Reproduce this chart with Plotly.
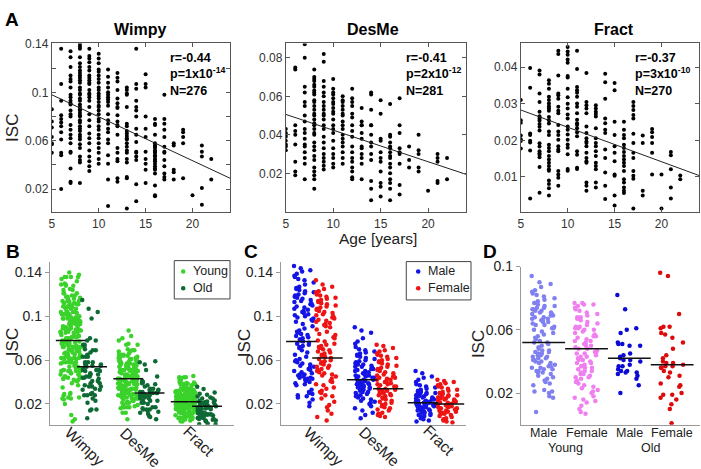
import plotly.graph_objects as go

W, H = 701, 469

# ---------------- Panel A data (ISC per subject, grouped by age) ----------------
ages = list(range(5, 23))
wimpy_isc = [
    [0.086, 0.076, 0.071, 0.063, 0.058, 0.057, 0.050],
    [0.136, 0.107, 0.093, 0.081, 0.078, 0.075, 0.072, 0.067, 0.061, 0.050, 0.048, 0.020],
    [0.134, 0.129, 0.121, 0.114, 0.111, 0.109, 0.104, 0.098, 0.096, 0.093, 0.091, 0.090, 0.085,
     0.082, 0.080, 0.073, 0.069, 0.065, 0.062, 0.058, 0.051, 0.050, 0.037, 0.026, 0.025],
    [0.140, 0.138, 0.136, 0.129, 0.124, 0.121, 0.118, 0.116, 0.114, 0.112, 0.110, 0.108, 0.104,
     0.102, 0.099, 0.098, 0.095, 0.093, 0.090, 0.088, 0.086, 0.085, 0.083, 0.081, 0.080, 0.077,
     0.075, 0.072, 0.070, 0.068, 0.065, 0.063, 0.061, 0.057, 0.054, 0.047, 0.044, 0.042, 0.025],
    [0.136, 0.130, 0.128, 0.125, 0.121, 0.118, 0.114, 0.112, 0.110, 0.108, 0.107, 0.102, 0.099,
     0.098, 0.096, 0.093, 0.088, 0.082, 0.077, 0.072, 0.066, 0.062, 0.058, 0.052, 0.047, 0.043,
     0.039, 0.035],
    [0.132, 0.128, 0.124, 0.119, 0.117, 0.114, 0.111, 0.108, 0.104, 0.102, 0.099, 0.097, 0.095,
     0.092, 0.089, 0.088, 0.085, 0.082, 0.078, 0.076, 0.072, 0.069, 0.065, 0.062, 0.058, 0.054,
     0.050, 0.045, 0.041],
    [0.119, 0.113, 0.108, 0.104, 0.100, 0.098, 0.096, 0.094, 0.092, 0.089, 0.082, 0.077, 0.074,
     0.070, 0.067, 0.061, 0.058, 0.048, 0.041, 0.028, 0.006],
    [0.116, 0.112, 0.109, 0.102, 0.095, 0.091, 0.088, 0.087, 0.081, 0.076, 0.073, 0.072, 0.065,
     0.054, 0.050, 0.045, 0.043, 0.029, 0.026],
    [0.104, 0.102, 0.099, 0.098, 0.088, 0.074, 0.072, 0.068, 0.066, 0.064, 0.062, 0.061, 0.058,
     0.055, 0.052, 0.050, 0.045, 0.042, 0.030, 0.029, 0.004],
    [0.136, 0.107, 0.103, 0.093, 0.088, 0.085, 0.080, 0.070, 0.065, 0.059, 0.051, 0.050, 0.047,
     0.044, 0.024, 0.010],
    [0.115, 0.107, 0.104, 0.080, 0.070, 0.063, 0.051, 0.045, 0.041, 0.036, 0.025],
    [0.078, 0.074, 0.073, 0.065, 0.058, 0.056, 0.055, 0.054, 0.052, 0.051, 0.050, 0.048, 0.047,
     0.045, 0.044, 0.043, 0.041, 0.039, 0.037, 0.036, 0.033, 0.023, 0.015, 0.014],
    [0.098, 0.078, 0.074, 0.069, 0.063, 0.055, 0.051, 0.050, 0.044, 0.039, 0.033, 0.030, 0.028],
    [0.058, 0.056, 0.036, 0.034, 0.028],
    [0.069, 0.067, 0.063, 0.058, 0.029],
    [0.015],
    [0.056, 0.051, 0.047, 0.021, 0.007],
    [0.045, 0.028],
]
desme_isc = [
    [0.043, 0.041, 0.040, 0.039, 0.037, 0.035, 0.034, 0.032],
    [0.075, 0.074, 0.045, 0.042, 0.040, 0.035, 0.026, 0.021, 0.019],
    [0.087, 0.080, 0.065, 0.062, 0.057, 0.055, 0.050, 0.047, 0.043, 0.041, 0.038, 0.035, 0.034,
     0.031, 0.028, 0.025, 0.017],
    [0.074, 0.070, 0.069, 0.068, 0.066, 0.065, 0.063, 0.062, 0.061, 0.058, 0.057, 0.055, 0.053,
     0.051, 0.050, 0.048, 0.046, 0.045, 0.043, 0.041, 0.040, 0.036, 0.034, 0.032, 0.029, 0.027,
     0.023, 0.021, 0.019, 0.017, 0.012],
    [0.082, 0.078, 0.068, 0.065, 0.062, 0.060, 0.057, 0.055, 0.053, 0.051, 0.050, 0.048, 0.045,
     0.043, 0.039, 0.036, 0.033, 0.030, 0.028, 0.026, 0.024, 0.022],
    [0.069, 0.064, 0.062, 0.061, 0.059, 0.057, 0.056, 0.054, 0.052, 0.051, 0.048, 0.045, 0.043,
     0.041, 0.037, 0.033, 0.030, 0.028, 0.025, 0.023],
    [0.060, 0.058, 0.057, 0.055, 0.053, 0.051, 0.050, 0.047, 0.045, 0.043, 0.040, 0.038, 0.036,
     0.034, 0.031, 0.028, 0.025],
    [0.064, 0.059, 0.057, 0.055, 0.051, 0.049, 0.045, 0.042, 0.039, 0.034, 0.031, 0.028, 0.026,
     0.023, 0.021, 0.018, 0.017],
    [0.054, 0.047, 0.045, 0.045, 0.041, 0.038, 0.034, 0.033, 0.030, 0.028, 0.025, 0.017],
    [0.062, 0.061, 0.053, 0.045, 0.045, 0.040, 0.036, 0.034, 0.030, 0.027, 0.016, 0.012, 0.006],
    [0.058, 0.051, 0.038, 0.037, 0.031, 0.028, 0.026, 0.021, 0.015, 0.013, 0.008],
    [0.056, 0.040, 0.039, 0.036, 0.034, 0.033, 0.031, 0.029, 0.028, 0.025, 0.023, 0.020, 0.017,
     0.015, 0.012, 0.006],
    [0.059, 0.045, 0.041, 0.033, 0.031, 0.030, 0.025, 0.014, 0.009],
    [0.034, 0.027, 0.023],
    [0.040, 0.032, 0.030, 0.023, 0.021],
    [0.011],
    [0.030, 0.028, 0.026, 0.016, 0.015],
    [0.028, 0.017],
]
fract_isc = [
    [0.0310, 0.0255, 0.0248, 0.0213, 0.0203, 0.0198, 0.0178],
    [0.0398, 0.0344, 0.0219, 0.0215, 0.0199, 0.0194, 0.0172, 0.0041],
    [0.0391, 0.0380, 0.0328, 0.0305, 0.0278, 0.0266, 0.0260, 0.0254, 0.0245, 0.0237, 0.0227,
     0.0192, 0.0183, 0.0170, 0.0165, 0.0161, 0.0154, 0.0127, 0.0057],
    [0.0364, 0.0355, 0.0341, 0.0319, 0.0310, 0.0301, 0.0293, 0.0287, 0.0281, 0.0264, 0.0255,
     0.0246, 0.0224, 0.0215, 0.0188, 0.0179, 0.0170, 0.0157, 0.0148, 0.0139, 0.0130, 0.0121,
     0.0117, 0.0090, 0.0081, 0.0069, 0.0049],
    [0.0445, 0.0436, 0.0377, 0.0328, 0.0323, 0.0314, 0.0292, 0.0281, 0.0274, 0.0242, 0.0224,
     0.0215, 0.0202, 0.0184, 0.0175, 0.0170, 0.0116, 0.0107, 0.0098, 0.0076],
    [0.0455, 0.0443, 0.0434, 0.0421, 0.0412, 0.0376, 0.0372, 0.0341, 0.0318, 0.0300, 0.0287,
     0.0271, 0.0260, 0.0238, 0.0229, 0.0216, 0.0202, 0.0189, 0.0180, 0.0162, 0.0122, 0.0117],
    [0.0445, 0.0395, 0.0346, 0.0337, 0.0330, 0.0319, 0.0301, 0.0292, 0.0274, 0.0256, 0.0247,
     0.0242, 0.0233, 0.0222, 0.0211, 0.0170, 0.0161, 0.0125, 0.0122],
    [0.0384, 0.0305, 0.0296, 0.0287, 0.0274, 0.0238, 0.0220, 0.0206, 0.0197, 0.0193, 0.0184,
     0.0166, 0.0152, 0.0143, 0.0139, 0.0085, 0.0076, 0.0062],
    [0.0296, 0.0287, 0.0278, 0.0272, 0.0265, 0.0233, 0.0206, 0.0193, 0.0184, 0.0170, 0.0157,
     0.0139, 0.0130, 0.0121, 0.0085, 0.0071],
    [0.0382, 0.0359, 0.0314, 0.0260, 0.0247, 0.0229, 0.0220, 0.0175, 0.0152, 0.0112, 0.0076, 0.0040],
    [0.0357, 0.0337, 0.0251, 0.0215, 0.0184, 0.0166, 0.0143, 0.0107, 0.0103, 0.0049, 0.0022],
    [0.0251, 0.0229, 0.0215, 0.0206, 0.0188, 0.0179, 0.0168, 0.0157, 0.0148, 0.0139, 0.0130,
     0.0116, 0.0094, 0.0085, 0.0071, 0.0062, 0.0056],
    [0.0305, 0.0294, 0.0283, 0.0269, 0.0260, 0.0218, 0.0193, 0.0166, 0.0152, 0.0116, 0.0103,
     0.0095, 0.0014],
    [0.0213, 0.0193, 0.0062, 0.0049],
    [0.0231, 0.0222, 0.0209, 0.0193, 0.0166, 0.0107],
    [0.0107, 0.0014],
    [0.0168, 0.0159, 0.0121, 0.0071, 0.0041],
    [0.0104, 0.0094],
]
fit_ages = [5, 24]
wimpy_fit = [0.098, 0.029]
desme_fit = [0.0506, 0.0195]
fract_fit = [0.0283, 0.0104]
stat_r = ["-0.44", "-0.41", "-0.37"]
stat_p_mant = ["1", "2", "3"]
stat_p_exp = ["-14", "-12", "-10"]
stat_n = [276, 281, 270]
measure_names = ["Wimpy", "DesMe", "Fract"]

# ---------------- Panel B (young / old split of panel A subjects) ----------------
old_age_min = 15
b_young_means = [0.078, 0.043, 0.022]
b_old_means = [0.054, 0.030, 0.018]

# ---------------- Panel C (male / female) ----------------
c_male_wimpy = [0.146, 0.144, 0.142, 0.141, 0.139, 0.137, 0.136, 0.134, 0.133, 0.131, 0.129, 0.127,
                0.126, 0.125, 0.124, 0.123, 0.122, 0.121, 0.120, 0.119, 0.118, 0.117, 0.116, 0.115,
                0.114, 0.113, 0.112, 0.111, 0.110, 0.109, 0.108, 0.107, 0.106, 0.105, 0.104, 0.103,
                0.102, 0.101, 0.100, 0.099, 0.098, 0.097, 0.096, 0.095, 0.093, 0.091, 0.089, 0.087,
                0.086, 0.085, 0.084, 0.083, 0.082, 0.081, 0.080, 0.079, 0.078, 0.077, 0.076, 0.075,
                0.074, 0.073, 0.072, 0.071, 0.069, 0.067, 0.065, 0.063, 0.061, 0.060, 0.059, 0.058,
                0.057, 0.056, 0.055, 0.054, 0.053, 0.052, 0.051, 0.050, 0.049, 0.048, 0.047, 0.047,
                0.046, 0.045, 0.045, 0.044, 0.044, 0.043, 0.043, 0.042, 0.041, 0.040, 0.039, 0.038,
                0.037, 0.033, 0.031, 0.030, 0.029, 0.028, 0.027, 0.026, 0.024, 0.021, 0.018]
c_female_wimpy = [0.133, 0.129, 0.127, 0.125, 0.123, 0.122, 0.120, 0.119, 0.118, 0.117, 0.116,
                  0.115, 0.114, 0.113, 0.112, 0.111, 0.110, 0.109, 0.108, 0.107, 0.106, 0.105,
                  0.104, 0.103, 0.102, 0.101, 0.100, 0.099, 0.098, 0.097, 0.096, 0.095, 0.094,
                  0.093, 0.092, 0.091, 0.090, 0.088, 0.086, 0.084, 0.083, 0.081, 0.080, 0.078,
                  0.077, 0.075, 0.074, 0.073, 0.072, 0.071, 0.070, 0.069, 0.068, 0.067, 0.066,
                  0.065, 0.064, 0.063, 0.062, 0.061, 0.060, 0.059, 0.058, 0.057, 0.056, 0.055,
                  0.054, 0.053, 0.052, 0.051, 0.050, 0.049, 0.048, 0.047, 0.046, 0.045, 0.043,
                  0.041, 0.040, 0.038, 0.037, 0.035, 0.034, 0.032, 0.031, 0.030, 0.028, 0.027,
                  0.025, 0.022, 0.019, 0.017, 0.014, 0.011, 0.008, 0.005]
c_male_desme = [0.090, 0.087, 0.085, 0.080, 0.077, 0.075, 0.072, 0.070, 0.069, 0.068, 0.067, 0.066,
                0.065, 0.064, 0.063, 0.062, 0.061, 0.060, 0.059, 0.058, 0.057, 0.056, 0.056, 0.055,
                0.054, 0.054, 0.053, 0.052, 0.052, 0.051, 0.050, 0.050, 0.049, 0.048, 0.048, 0.047,
                0.046, 0.046, 0.045, 0.045, 0.044, 0.044, 0.043, 0.043, 0.042, 0.042, 0.041, 0.041,
                0.040, 0.040, 0.039, 0.039, 0.038, 0.038, 0.037, 0.037, 0.036, 0.036, 0.035, 0.035,
                0.034, 0.033, 0.033, 0.032, 0.031, 0.031, 0.030, 0.029, 0.028, 0.028, 0.027, 0.026,
                0.025, 0.024, 0.023, 0.022, 0.021, 0.020, 0.018, 0.016, 0.014, 0.012, 0.010, 0.007]
c_female_desme = [0.074, 0.073, 0.071, 0.069, 0.068, 0.066, 0.065, 0.064, 0.063, 0.062, 0.061,
                  0.060, 0.059, 0.058, 0.057, 0.056, 0.055, 0.054, 0.053, 0.052, 0.051, 0.050,
                  0.049, 0.048, 0.047, 0.046, 0.045, 0.045, 0.044, 0.044, 0.043, 0.042, 0.042,
                  0.041, 0.040, 0.040, 0.039, 0.038, 0.038, 0.037, 0.036, 0.036, 0.035, 0.034,
                  0.034, 0.033, 0.032, 0.032, 0.031, 0.030, 0.030, 0.029, 0.028, 0.028, 0.027,
                  0.026, 0.025, 0.024, 0.023, 0.022, 0.021, 0.020, 0.019, 0.018, 0.017, 0.016,
                  0.015, 0.014, 0.012, 0.011, 0.010, 0.009, 0.008]
c_male_fract = [0.050, 0.048, 0.045, 0.044, 0.042, 0.040, 0.038, 0.037, 0.036, 0.035, 0.034, 0.033,
                0.032, 0.031, 0.031, 0.030, 0.030, 0.029, 0.029, 0.028, 0.028, 0.027, 0.027, 0.026,
                0.026, 0.025, 0.025, 0.024, 0.024, 0.023, 0.023, 0.022, 0.022, 0.022, 0.021, 0.021,
                0.021, 0.020, 0.020, 0.020, 0.019, 0.019, 0.019, 0.018, 0.018, 0.018, 0.017, 0.017,
                0.016, 0.016, 0.015, 0.015, 0.014, 0.014, 0.013, 0.013, 0.012, 0.012, 0.011, 0.010,
                0.010, 0.009, 0.008, 0.007, 0.006, 0.005, 0.004]
c_female_fract = [0.042, 0.041, 0.040, 0.039, 0.038, 0.037, 0.036, 0.035, 0.034, 0.033, 0.032,
                  0.031, 0.030, 0.030, 0.029, 0.028, 0.028, 0.027, 0.027, 0.026, 0.026, 0.025,
                  0.025, 0.024, 0.024, 0.023, 0.023, 0.022, 0.022, 0.021, 0.021, 0.020, 0.020,
                  0.019, 0.019, 0.018, 0.018, 0.017, 0.017, 0.016, 0.016, 0.015, 0.015, 0.014,
                  0.014, 0.013, 0.013, 0.012, 0.012, 0.011, 0.011, 0.010, 0.009, 0.008, 0.007,
                  0.006, 0.005, 0.004, 0.003]
c_male_means = [0.077, 0.042, 0.021]
c_female_means = [0.062, 0.034, 0.020]

# ---------------- Panel D ----------------
d_tick_labels = ["Male", "Female", "Male", "Female"]
d_group_labels = ["Young", "Old"]
d_young_male = [0.094, 0.090, 0.089, 0.087, 0.085, 0.084, 0.083, 0.082, 0.081, 0.080, 0.079, 0.078,
                0.077, 0.077, 0.076, 0.075, 0.075, 0.074, 0.074, 0.073, 0.073, 0.072, 0.072, 0.071,
                0.071, 0.070, 0.070, 0.069, 0.069, 0.068, 0.068, 0.067, 0.067, 0.066, 0.066, 0.065,
                0.065, 0.064, 0.063, 0.063, 0.062, 0.061, 0.061, 0.060, 0.059, 0.058, 0.057, 0.056,
                0.055, 0.054, 0.053, 0.052, 0.052, 0.051, 0.050, 0.049, 0.048, 0.047, 0.047, 0.046,
                0.046, 0.045, 0.045, 0.044, 0.044, 0.043, 0.043, 0.042, 0.042, 0.041, 0.041, 0.040,
                0.040, 0.039, 0.039, 0.038, 0.038, 0.037, 0.037, 0.036, 0.036, 0.035, 0.035, 0.034,
                0.034, 0.033, 0.033, 0.032, 0.031, 0.030, 0.029, 0.028, 0.027, 0.026, 0.025, 0.022,
                0.021, 0.021, 0.020, 0.018, 0.017, 0.008]
d_young_female = [0.077, 0.077, 0.076, 0.076, 0.075, 0.074, 0.073, 0.072, 0.071, 0.070, 0.069,
                  0.068, 0.068, 0.067, 0.066, 0.065, 0.064, 0.063, 0.062, 0.062, 0.061, 0.061,
                  0.060, 0.060, 0.059, 0.058, 0.057, 0.056, 0.056, 0.055, 0.054, 0.053, 0.053,
                  0.052, 0.051, 0.050, 0.050, 0.049, 0.048, 0.048, 0.047, 0.046, 0.046, 0.045,
                  0.045, 0.044, 0.043, 0.043, 0.042, 0.041, 0.041, 0.040, 0.039, 0.039, 0.038,
                  0.037, 0.037, 0.036, 0.036, 0.035, 0.034, 0.034, 0.033, 0.032, 0.032, 0.031,
                  0.030, 0.030, 0.029, 0.028, 0.027, 0.026, 0.025, 0.024, 0.023, 0.022, 0.021,
                  0.020, 0.018, 0.017, 0.016, 0.015, 0.014, 0.012, 0.010, 0.008, 0.007]
d_old_male = [0.082, 0.073, 0.061, 0.060, 0.058, 0.052, 0.051, 0.051, 0.050, 0.050, 0.045, 0.044,
              0.043, 0.042, 0.041, 0.041, 0.040, 0.038, 0.037, 0.037, 0.035, 0.034, 0.034, 0.033,
              0.033, 0.032, 0.031, 0.029, 0.025, 0.020]
d_old_female = [0.096, 0.094, 0.070, 0.062, 0.062, 0.061, 0.058, 0.057, 0.055, 0.052, 0.048, 0.044,
                0.042, 0.040, 0.039, 0.039, 0.038, 0.037, 0.037, 0.036, 0.036, 0.034, 0.033, 0.031,
                0.030, 0.026, 0.025, 0.024, 0.020, 0.019, 0.019, 0.017, 0.016, 0.013, 0.010, 0.001]
d_means = [0.052, 0.048, 0.042, 0.038]

# ---------------- colours ----------------
C_YOUNG, C_OLD = "#3ad22b", "#0e6a34"
C_MALE, C_FEMALE = "#1414e6", "#ee1414"
D_COLORS = ["#8080f0", "#f080f0", "#0a0ad2", "#dc0a0a"]
FONT = "Liberation Sans, Arial, sans-serif"


def px(x, y):
    return x / W, 1 - y / H


def jitter(n, half):
    # deterministic, evenly spread horizontal offsets for a strip plot
    a, b = 0.7548776662466927, 0.5698402909980532
    return [half * (2 * ((k * a + k * k * b) % 1.0) - 1) for k in range(n)]


fig = go.Figure()

# ---------- Panel A ----------
a_sets = [wimpy_isc, desme_isc, fract_isc]
a_fits = [wimpy_fit, desme_fit, fract_fit]
for i, (data, fit) in enumerate(zip(a_sets, a_fits)):
    xs, ys = [], []
    for a, vals in zip(ages, data):
        xs += [a] * len(vals)
        ys += vals
    ax = "" if i == 0 else str(i + 1)
    fig.add_trace(go.Scatter(x=xs, y=ys, mode="markers", marker=dict(size=4, color="black"),
                             xaxis="x" + ax, yaxis="y" + ax, hoverinfo="skip", cliponaxis=True))
    fig.add_trace(go.Scatter(x=fit_ages, y=fit, mode="lines", line=dict(color="#222", width=1),
                             xaxis="x" + ax, yaxis="y" + ax, hoverinfo="skip"))


def strip(vals, center, half, color, xa, ya):
    off = jitter(len(vals), half)
    fig.add_trace(go.Scatter(x=[center + o for o in off], y=vals, mode="markers",
                             marker=dict(size=4.5, color=color), xaxis=xa, yaxis=ya,
                             hoverinfo="skip"))


def mean_line(m, center, half, xa, ya):
    fig.add_trace(go.Scatter(x=[center - half, center + half], y=[m, m], mode="lines",
                             line=dict(color="#111", width=1.5), xaxis=xa, yaxis=ya,
                             hoverinfo="skip"))


# ---------- Panel B ----------
for g, data in enumerate(a_sets):
    young = [v for a, vals in zip(ages, data) if a < old_age_min for v in vals]
    old = [v for a, vals in zip(ages, data) if a >= old_age_min for v in vals]
    strip(young, g + 1 - 0.18, 0.18, C_YOUNG, "x4", "y4")
    strip(old, g + 1 + 0.19, 0.17, C_OLD, "x4", "y4")
for g in range(3):
    mean_line(b_young_means[g], g + 1 - 0.18, 0.26, "x4", "y4")
    mean_line(b_old_means[g], g + 1 + 0.19, 0.26, "x4", "y4")

# ---------- Panel C ----------
c_male = [c_male_wimpy, c_male_desme, c_male_fract]
c_female = [c_female_wimpy, c_female_desme, c_female_fract]
for g in range(3):
    strip(c_male[g], g + 1 - 0.17, 0.17, C_MALE, "x5", "y5")
    strip(c_female[g], g + 1 + 0.19, 0.17, C_FEMALE, "x5", "y5")
for g in range(3):
    mean_line(c_male_means[g], g + 1 - 0.22, 0.25, "x5", "y5")
    mean_line(c_female_means[g], g + 1 + 0.21, 0.25, "x5", "y5")

# ---------- Panel D ----------
d_sets = [d_young_male, d_young_female, d_old_male, d_old_female]
for k, vals in enumerate(d_sets):
    strip(vals, k + 1, 0.28, D_COLORS[k], "x6", "y6")
for k in range(4):
    mean_line(d_means[k], k + 1, 0.5, "x6", "y6")


# ---------- axes ----------
def dom_x(a, b):
    return [a / W, b / W]


def dom_y(top, bottom):
    return [1 - bottom / H, 1 - top / H]


a_x = dict(range=[5, 24], tickvals=[5, 10, 15, 20], ticks="inside", ticklen=4, showline=True,
           mirror="ticks", linecolor="#555", linewidth=1, showgrid=False, zeroline=False,
           tickfont=dict(size=12, color="#333", family=FONT), tickcolor="#555")
a_y = dict(ticks="inside", ticklen=4, showline=True, mirror="ticks", linecolor="#555",
           linewidth=1, showgrid=False, zeroline=False,
           tickfont=dict(size=12, color="#333", family=FONT), tickcolor="#555")
fig.update_layout(
    xaxis=dict(a_x, domain=dom_x(49, 228), anchor="y"),
    yaxis=dict(a_y, domain=dom_y(36, 208), anchor="x", range=[0.0007, 0.1405],
               tickvals=[0.02, 0.06, 0.10, 0.14], ticktext=["0.02", "0.06", "0.1", "0.14"],
               minor=dict(tickvals=[0.04, 0.08, 0.12], ticks="inside", ticklen=4,
                          tickcolor="#555")),
    xaxis2=dict(a_x, domain=dom_x(284, 465), anchor="y2"),
    yaxis2=dict(a_y, domain=dom_y(36, 208), anchor="x2", range=[-0.0003, 0.0875],
                tickvals=[0.02, 0.04, 0.06, 0.08], ticktext=["0.02", "0.04", "0.06", "0.08"]),
    xaxis3=dict(a_x, domain=dom_x(520, 699), anchor="y3"),
    yaxis3=dict(a_y, domain=dom_y(36, 208), anchor="x3", range=[0.0003, 0.0465],
                tickvals=[0.01, 0.02, 0.03, 0.04], ticktext=["0.01", "0.02", "0.03", "0.04"]),
)

b_x = dict(showline=True, linecolor="#999", linewidth=1, ticks="", showticklabels=False,
           showgrid=False, zeroline=False)
b_y = dict(showline=True, linecolor="#999", linewidth=1, ticks="outside", ticklen=4,
           tickcolor="#999", showgrid=False, zeroline=False,
           tickfont=dict(size=14, color="#222", family=FONT))
fig.update_layout(
    xaxis4=dict(b_x, domain=dom_x(47, 232), anchor="y4", range=[0.455, 3.66]),
    yaxis4=dict(b_y, domain=dom_y(258, 424), anchor="x4", range=[0.001, 0.150],
                tickvals=[0.02, 0.06, 0.10, 0.14], ticktext=["0.02", "0.06", "0.1", "0.14"]),
    xaxis5=dict(b_x, domain=dom_x(279, 465), anchor="y5", range=[0.443, 3.49]),
    yaxis5=dict(b_y, domain=dom_y(258, 424), anchor="x5", range=[0.001, 0.150],
                tickvals=[0.02, 0.06, 0.10, 0.14], ticktext=["0.02", "0.06", "0.1", "0.14"]),
    xaxis6=dict(b_x, domain=dom_x(520, 700), anchor="y6", range=[0.465, 4.65]),
    yaxis6=dict(b_y, domain=dom_y(263, 424), anchor="x6", range=[0, 0.1],
                tickvals=[0.02, 0.06, 0.10], ticktext=["0.02", "0.06", "0.1"]),
)

# ---------- text ----------
ann = []


def text(x, y, s, size, bold=False, angle=0, xanchor="center", color="#111", yanchor="middle"):
    px_, py_ = px(x, y)
    ann.append(dict(x=px_, y=py_, xref="paper", yref="paper", text=("<b>%s</b>" % s) if bold else s,
                    showarrow=False, textangle=angle, xanchor=xanchor, yanchor=yanchor,
                    font=dict(size=size, color=color, family=FONT), align="left",
                    borderpad=0))


for lbl, (x, y) in zip("ABCD", [(9, 12), (10, 248), (249, 248), (489, 248)]):
    text(x, y, lbl, 19, bold=True, color="black")
for name, x in zip(measure_names, [138, 372, 614]):
    text(x, 22, name, 16, bold=True, color="black")
for i, x in enumerate([167, 404, 634]):
    block = "r=%s<br>p=%sx10<sup>%s</sup><br>N=%d" % (stat_r[i], stat_p_mant[i],
                                                       stat_p_exp[i], stat_n[i])
    text(x, 43, block, 12.5, bold=True, xanchor="left", color="black", yanchor="top")
text(377, 235, "Age [years]", 15.5, color="#222")
for (x, y) in [(10, 122), (9, 340), (242, 341), (477, 342)]:
    text(x, y, "ISC", 17, angle=-90, color="#222")
for name, (x, y) in zip(measure_names, [(82, 446), (138, 447), (197, 441)]):
    text(x, y, name, 15.5, angle=44, color="#222")
for name, (x, y) in zip(measure_names, [(322, 446), (378, 446), (438, 440)]):
    text(x, y, name, 15.5, angle=44, color="#222")
# panel D category labels
for k, name in enumerate(d_tick_labels):
    ann.append(dict(x=k + 1, y=1 - 432 / H, xref="x6", yref="paper", text=name, showarrow=False,
                    xanchor="center", yanchor="middle", borderpad=0,
                    font=dict(size=12.5, color="#222", family=FONT)))
for name, xc in zip(d_group_labels, [1.5, 3.5]):
    ann.append(dict(x=xc, y=1 - 448 / H, xref="x6", yref="paper", text=name, showarrow=False,
                    xanchor="center", yanchor="middle", borderpad=0,
                    font=dict(size=12.5, color="#222", family=FONT)))

# legends (drawn manually to match the compact boxes)
shapes = []


def legend_box(x0, y0, x1, y1, entries, tx, mx):
    a0, b0 = px(x0, y0)
    a1, b1 = px(x1, y1)
    shapes.append(dict(type="rect", xref="paper", yref="paper", x0=a0, y0=b1, x1=a1, y1=b0,
                       line=dict(color="#444", width=1), fillcolor="white", layer="above"))
    for (label, color), yy in zip(entries, [268, 285]):
        c0 = px(mx - 2.3, yy - 2.3)
        c1 = px(mx + 2.3, yy + 2.3)
        shapes.append(dict(type="circle", xref="paper", yref="paper", x0=c0[0], y0=c1[1],
                           x1=c1[0], y1=c0[1], line=dict(width=0), fillcolor=color,
                           layer="above"))
        text(tx, yy, label, 12.5, xanchor="left", color="#222")


legend_box(172, 257, 228, 296, [("Young", C_YOUNG), ("Old", C_OLD)], 190, 181)
legend_box(405, 258, 470, 297, [("Male", C_MALE), ("Female", C_FEMALE)], 426, 417)

fig.update_layout(
    width=W, height=H, margin=dict(l=0, r=0, t=0, b=0), showlegend=False,
    paper_bgcolor="white", plot_bgcolor="white", annotations=ann, shapes=shapes,
    font=dict(family=FONT),
)

fig.write_html("out.html", config={"displayModeBar": False},
               post_script="document.body.style.margin='0px';"
                           "document.body.style.overflow='hidden';")
